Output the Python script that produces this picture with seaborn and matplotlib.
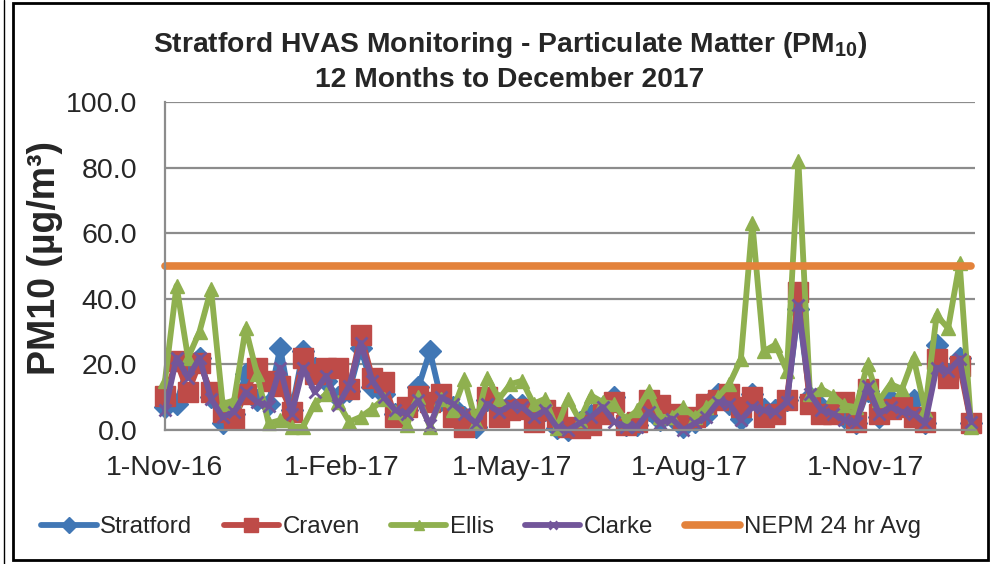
import matplotlib
matplotlib.use("Agg")
import matplotlib.pyplot as plt
from matplotlib.patches import Rectangle
from matplotlib.lines import Line2D
import seaborn as sns
import pandas as pd

# HVAS samples, one every 6 days from 1-Nov-16
dates = pd.date_range("2016-11-01", periods=71, freq="6D")

stratford = [7, 8, 20, 22, 10, 2, 5, 17, 9, 8, 25, 6, 24, 19, 15,
             10, 12, 25, 13, 11, 5, 6, 13, 24, 9, 7, 4, 1, 9,
             7, 7.5, 7.5, 4, 6, 0.5, 0, 2.5, 4.5, 7, 10, 1.5, 1.5, 6,
             3, 4, 1, 2.5, 4.5, 11, 8, 3.5, 11, 6.5, 6, 9, 37, 10, 7,
             5.5, 4, 2, 12, 4, 9, 9, 9, 2, 26, 17, 22, 2]
craven = [10.5, 21, 11.5, 20.5, 11.5, 5.5, 3.5, 11, 19, 15, 13.5, 5.5, 22, 17, 19,
          19, 12.5, 29, 16, 14.5, 4, 7, 10.5, 8.5, 11, 4, 1, 3.5, 10,
          4, 6, 6.5, 2.5, 6, 4, 1, 0.5, 1.5, 5, 8.5, 1.5, 2.5, 9,
          7.5, 5, 3.5, 4, 8, 9, 11, 7, 10, 4, 5, 9, 42, 8, 5,
          5, 8.5, 2.5, 12.5, 5, 6.5, 7, 4, 2.5, 21.5, 16, 19.5, 2]
ellis = [15, 44, 22, 30, 43, 8, 9, 31, 17, 2, 3, 1, 1, 8, 11,
         8.5, 2.5, 4, 6.5, 9.5, 5.5, 1.5, 10, 1, 9.5, 6, 15.5, 2.5, 16,
         9.5, 14, 15, 8, 9.5, 0.5, 9.5, 3, 10.5, 8.5, 8, 3, 6, 12,
         4, 4, 7, 4, 7, 10, 14, 21.5, 63, 24, 26, 18, 82, 11, 12.5,
         10.5, 7.5, 7, 20, 9, 14, 12.5, 22, 6, 35, 31, 51, 1]
clarke = [6, 22, 16, 22, 9.5, 4, 5.5, 11.5, 8.5, 7.4, 19, 5, 19, 11.5, 16.5,
          7.5, 13.5, 26.5, 15, 10, 6, 5, 9, 1.5, 10, 8, 5, 2, 8,
          5.5, 7.5, 7, 4, 6, 1, 0, 2, 4, 7, 2.5, 1, 1, 5.5,
          2, 3.5, 0, 2, 4, 8.5, 8, 3, 7, 6, 5.5, 8.5, 38, 11, 6,
          5, 3, 2, 13.5, 5, 7, 5.5, 5, 2, 19, 18, 21.5, 2.5]
nepm_limit = 50.0

tick_dates = pd.to_datetime(["2016-11-01", "2017-02-01", "2017-05-01",
                             "2017-08-01", "2017-11-01"])

df = pd.DataFrame({"date": dates, "Stratford": stratford, "Craven": craven,
                   "Ellis": ellis, "Clarke": clarke})

sns.set_style("white")
plt.rcParams["font.family"] = ["Liberation Sans", "DejaVu Sans"]
plt.rcParams["mathtext.fontset"] = "custom"
plt.rcParams["mathtext.rm"] = "Liberation Sans"
plt.rcParams["mathtext.bf"] = "Liberation Sans:bold"

fig = plt.figure(figsize=(9.96, 5.64), dpi=100)
ax = fig.add_axes([165 / 996, 1 - 430 / 564, 810 / 996, 328 / 564])

styles = [
    ("Stratford", "#4177B5", "D", 11, 1.0),
    ("Craven", "#BE4B48", "s", 14, 1.0),
    ("Ellis", "#8FB04F", "^", 10, 1.0),
    ("Clarke", "#72569A", "x", 8, 2.0),
]
for name, col, mk, ms, mew in styles:
    sns.lineplot(data=df, x="date", y=name, ax=ax, color=col, lw=4.2,
                 marker=mk, markersize=ms, markeredgecolor=col,
                 markeredgewidth=mew, clip_on=False, label=name, legend=False)

ax.plot(dates[[0, -1]], [nepm_limit, nepm_limit], color="#E3823B", lw=5.5,
        solid_capstyle="round", clip_on=False)

ax.set_ylim(0, 100)
ax.set_yticks([0, 20, 40, 60, 80, 100])
ax.set_yticklabels([f"{v:.1f}" for v in [0, 20, 40, 60, 80, 100]])
ax.set_xlim(dates[0], dates[0] + pd.Timedelta(days=422))
ax.set_xticks(tick_dates)
ax.set_xticklabels([f"{d.day}-{d:%b-%y}" for d in tick_dates])
ax.tick_params(axis="y", length=0, pad=20, labelsize=20.5)
ax.tick_params(axis="x", length=0, pad=18, labelsize=20.5)
ax.set_xlabel("")
ax.set_ylabel("")

ax.grid(axis="y", color="#8C8C8C", lw=1.6)
ax.grid(axis="x", visible=False)
for s in ["top", "right"]:
    ax.spines[s].set_visible(False)
for s in ["left", "bottom"]:
    ax.spines[s].set_color("#8C8C8C")
    ax.spines[s].set_linewidth(1.6)
ax.set_axisbelow(True)

fig.text(510 / 996, 1 - 45 / 564,
         r"Stratford HVAS Monitoring - Particulate Matter (PM$_{\mathbf{10}}$)",
         ha="center", va="center", fontsize=20.3, fontweight="bold")
fig.text(510 / 996, 1 - 80 / 564, "12 Months to December 2017",
         ha="center", va="center", fontsize=20.3, fontweight="bold")
fig.text(45 / 996, 1 - 258 / 564, "PM10 (µg/m³)", rotation=90,
         ha="center", va="center", fontsize=27, fontweight="bold")

handles = [Line2D([], [], color=c, lw=4.2, marker=m, markersize=ms * 0.75,
                  markeredgecolor=c, markeredgewidth=mew)
           for _, c, m, ms, mew in styles]
handles.append(Line2D([], [], color="#E3823B", lw=5.5))
labels = [s[0] for s in styles] + ["NEPM 24 hr Avg"]
fig.legend(handles, labels, loc="center", bbox_to_anchor=(481 / 996, 1 - 527 / 564),
           ncol=5, frameon=False, fontsize=17.3, handlelength=2.3,
           handletextpad=0.15, columnspacing=1.3)

fig.patches.append(Rectangle((13 / 996, 4 / 564), 975 / 996, 557 / 564,
                             transform=fig.transFigure, fill=False,
                             edgecolor="black", lw=2))
fig.lines.append(Line2D([4 / 996, 4 / 996], [0, 1], transform=fig.transFigure,
                        color="black", lw=1))

fig.savefig("out.png", dpi=100)
